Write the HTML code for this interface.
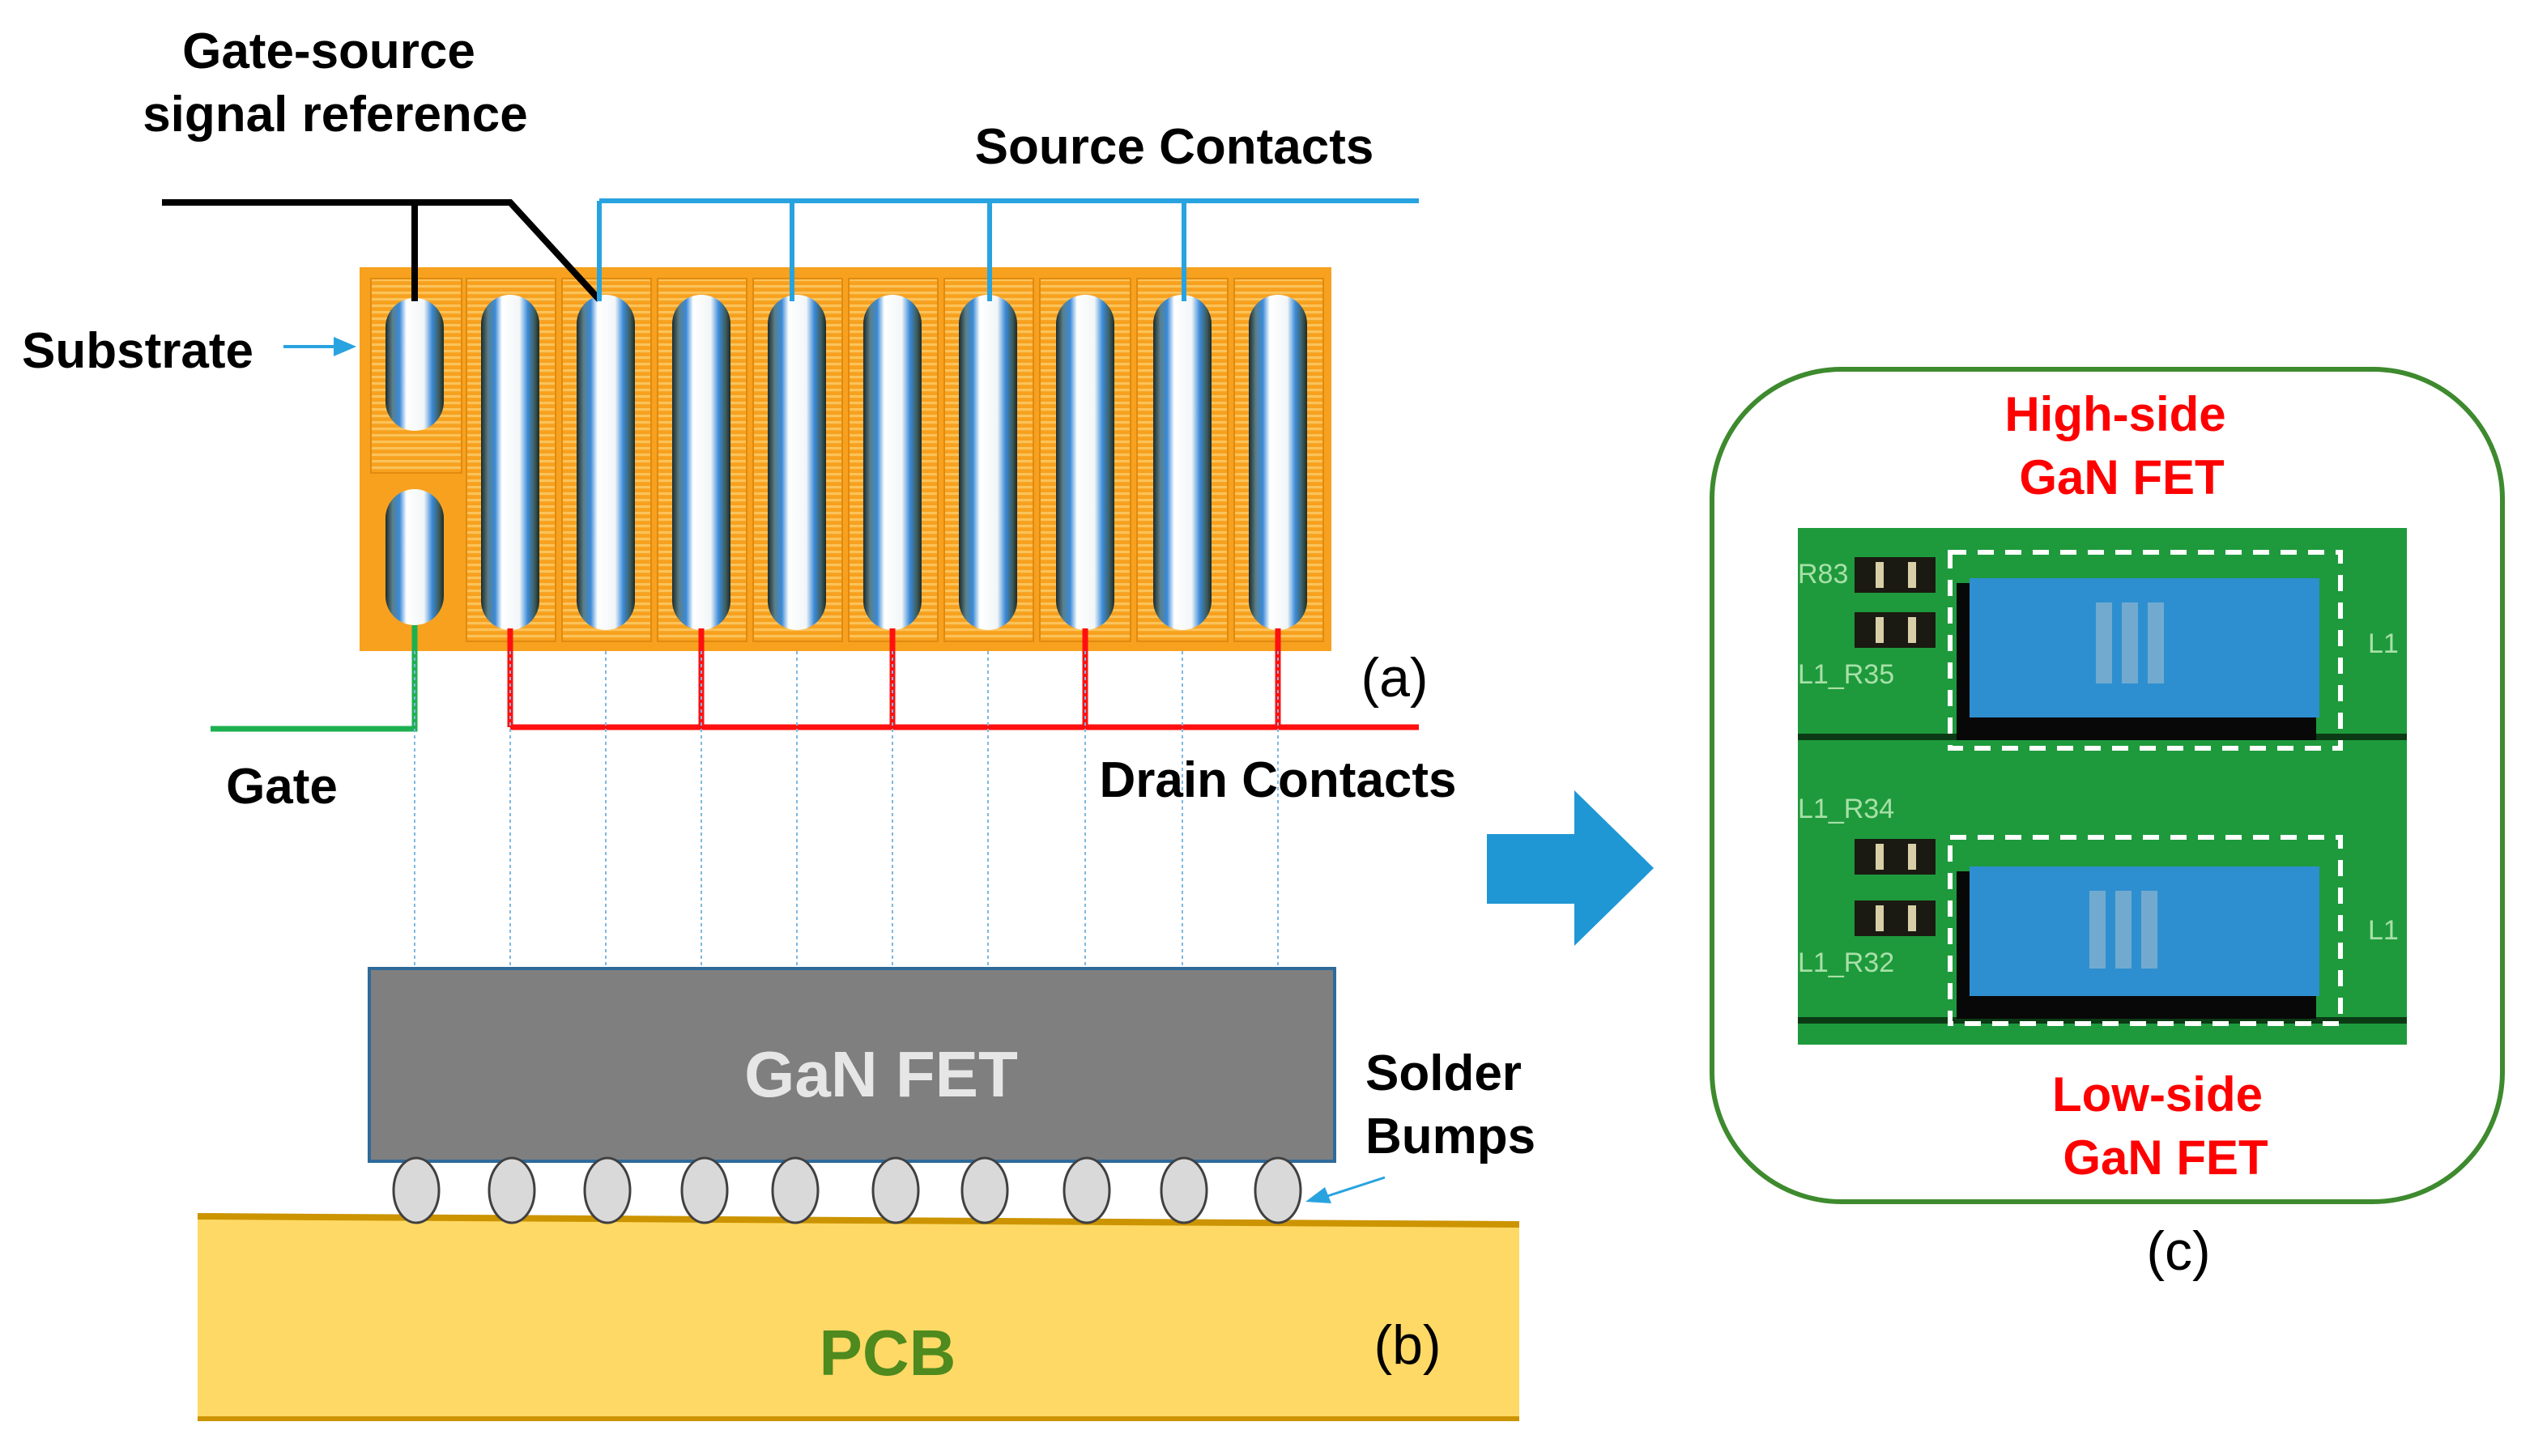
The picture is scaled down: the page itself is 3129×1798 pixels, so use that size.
<!DOCTYPE html>
<html><head><meta charset="utf-8"><style>
html,body{margin:0;padding:0;background:#fff;}
svg{display:block;}
text{font-family:"Liberation Sans",sans-serif;}
</style></head><body>
<svg width="3129" height="1798" viewBox="0 0 1564.5 899" xmlns="http://www.w3.org/2000/svg">
<defs>
<pattern id="st" width="4" height="4" patternUnits="userSpaceOnUse">
<rect width="4" height="4" fill="#F7A11F"/><rect width="4" height="1.6" fill="#FBC35A"/>
</pattern>
<linearGradient id="bg" x1="0" x2="1" y1="0" y2="0">
<stop offset="0" stop-color="#1d2a2a"/><stop offset="0.12" stop-color="#5a7f8a"/>
<stop offset="0.24" stop-color="#3a8ad8"/><stop offset="0.36" stop-color="#ffffff"/>
<stop offset="0.66" stop-color="#f2f6f8"/><stop offset="0.8" stop-color="#3a8ad8"/>
<stop offset="0.92" stop-color="#3d5c5c"/><stop offset="1" stop-color="#1d2a2a"/>
</linearGradient>
</defs>
<rect x="222" y="165" width="600" height="237" fill="#F7A11F"/>
<rect x="229" y="172" width="56" height="120" fill="url(#st)" stroke="#E08A10" stroke-width="1"/>
<g fill="url(#st)" stroke="#E08A10" stroke-width="1">
<rect x="288" y="172" width="55" height="224"/><rect x="347" y="172" width="55" height="224"/>
<rect x="406" y="172" width="55" height="224"/><rect x="465" y="172" width="55" height="224"/>
<rect x="524" y="172" width="55" height="224"/><rect x="583" y="172" width="55" height="224"/>
<rect x="642" y="172" width="56" height="224"/><rect x="702" y="172" width="56" height="224"/>
<rect x="762" y="172" width="55" height="224"/>
</g>
<g fill="url(#bg)">
<rect x="238" y="184" width="36" height="82" rx="18"/>
<rect x="238" y="302" width="36" height="84" rx="18"/>
<rect x="297" y="182" width="36" height="207" rx="18"/><rect x="356" y="182" width="36" height="207" rx="18"/>
<rect x="415" y="182" width="36" height="207" rx="18"/><rect x="474" y="182" width="36" height="207" rx="18"/>
<rect x="533" y="182" width="36" height="207" rx="18"/><rect x="592" y="182" width="36" height="207" rx="18"/>
<rect x="652" y="182" width="36" height="207" rx="18"/><rect x="712" y="182" width="36" height="207" rx="18"/>
<rect x="771" y="182" width="36" height="207" rx="18"/>
</g>
<polyline points="100,125 315,125 370,185" fill="none" stroke="#000" stroke-width="4"/>
<line x1="256" y1="125" x2="256" y2="186" stroke="#000" stroke-width="4"/>
<g stroke="#29A3E0" stroke-width="3" fill="none">
<line x1="370" y1="124" x2="876" y2="124"/>
<line x1="370" y1="124" x2="370" y2="186"/><line x1="489" y1="124" x2="489" y2="186"/>
<line x1="611" y1="124" x2="611" y2="186"/><line x1="731" y1="124" x2="731" y2="186"/>
</g>
<g stroke="#FF1010" stroke-width="3.5" fill="none">
<line x1="315" y1="449" x2="876" y2="449"/>
<line x1="315" y1="388" x2="315" y2="449"/><line x1="433" y1="388" x2="433" y2="449"/>
<line x1="551" y1="388" x2="551" y2="449"/><line x1="670" y1="388" x2="670" y2="449"/>
<line x1="789" y1="388" x2="789" y2="449"/>
</g>
<polyline points="256,386 256,450 130,450" fill="none" stroke="#1DB050" stroke-width="3.5"/>
<g stroke="#7fb8e0" stroke-width="1" stroke-dasharray="2,2">
<line x1="256" y1="402" x2="256" y2="775"/><line x1="315" y1="402" x2="315" y2="775"/>
<line x1="374" y1="402" x2="374" y2="775"/><line x1="433" y1="402" x2="433" y2="775"/>
<line x1="492" y1="402" x2="492" y2="775"/><line x1="551" y1="402" x2="551" y2="775"/>
<line x1="610" y1="402" x2="610" y2="775"/><line x1="670" y1="402" x2="670" y2="775"/>
<line x1="730" y1="402" x2="730" y2="775"/><line x1="789" y1="402" x2="789" y2="775"/>
</g>
<polygon points="122,750 938,755 938,877 122,877" fill="#FFD966"/>
<line x1="122" y1="751" x2="938" y2="756" stroke="#CC9400" stroke-width="4"/>
<line x1="122" y1="876" x2="938" y2="876" stroke="#CC9400" stroke-width="3"/>
<text x="548" y="849" font-size="40" font-weight="bold" fill="#4E8A1E" text-anchor="middle">PCB</text>
<rect x="228" y="598" width="596" height="119" fill="#7F7F7F" stroke="#2E6A9A" stroke-width="2"/>
<text x="544" y="677" font-size="40" font-weight="bold" fill="#E6E6E6" text-anchor="middle">GaN FET</text>
<g fill="#D9D9D9" stroke="#404040" stroke-width="1.5">
<ellipse cx="257" cy="735" rx="14" ry="20"/><ellipse cx="316" cy="735" rx="14" ry="20"/>
<ellipse cx="375" cy="735" rx="14" ry="20"/><ellipse cx="435" cy="735" rx="14" ry="20"/>
<ellipse cx="491" cy="735" rx="14" ry="20"/><ellipse cx="553" cy="735" rx="14" ry="20"/>
<ellipse cx="608" cy="735" rx="14" ry="20"/><ellipse cx="671" cy="735" rx="14" ry="20"/>
<ellipse cx="731" cy="735" rx="14" ry="20"/><ellipse cx="789" cy="735" rx="14" ry="20"/>
</g>
<g font-size="31" fill="#000" font-weight="bold">
<text x="203" y="42" text-anchor="middle">Gate-source</text>
<text x="207" y="81" text-anchor="middle">signal reference</text>
<text x="725" y="101" text-anchor="middle">Source Contacts</text>
<text x="85" y="227" text-anchor="middle">Substrate</text>
<text x="174" y="496" text-anchor="middle">Gate</text>
<text x="789" y="492" text-anchor="middle">Drain Contacts</text>
<text x="843" y="673">Solder</text>
<text x="843" y="712">Bumps</text>
</g>
<g font-size="34" fill="#000">
<text x="861" y="430" text-anchor="middle">(a)</text>
<text x="869" y="842" text-anchor="middle">(b)</text>
<text x="1345" y="784" text-anchor="middle">(c)</text>
</g>
<line x1="175" y1="214" x2="208" y2="214" stroke="#29A3E0" stroke-width="2"/>
<polygon points="220,214 206,208 206,220" fill="#29A3E0"/>
<line x1="855" y1="727" x2="818" y2="739" stroke="#29A3E0" stroke-width="1.5"/>
<polygon points="806,742 818,733 822,743" fill="#29A3E0"/>
<polygon points="918,515 972,515 972,488 1021,536 972,584 972,558 918,558" fill="#1F97D4"/>
<rect x="1057" y="228" width="488" height="514" rx="80" fill="none" stroke="#3E8A2E" stroke-width="3"/>
<g font-size="30" font-weight="bold" fill="#FF0000" text-anchor="middle">
<text x="1306" y="266">High-side</text><text x="1310" y="305">GaN FET</text>
<text x="1332" y="686">Low-side</text><text x="1337" y="725">GaN FET</text>
</g>
<rect x="1110" y="326" width="376" height="319" fill="#1E9A3C"/>
<rect x="1110" y="453" width="376" height="4" fill="#0B3A14"/>
<rect x="1110" y="628" width="376" height="4" fill="#0B3A14"/>
<rect x="1208" y="443" width="222" height="14" fill="#080808"/>
<rect x="1208" y="615" width="222" height="14" fill="#080808"/>
<rect x="1208" y="360" width="10" height="90" fill="#080808"/>
<rect x="1208" y="538" width="10" height="85" fill="#080808"/>
<rect x="1216" y="357" width="216" height="86" fill="#2E8FD0"/>
<rect x="1216" y="535" width="216" height="80" fill="#2E8FD0"/>
<g fill="#8fb6cf" opacity="0.7">
<rect x="1294" y="372" width="10" height="50"/><rect x="1310" y="372" width="10" height="50"/><rect x="1326" y="372" width="10" height="50"/>
<rect x="1290" y="550" width="10" height="48"/><rect x="1306" y="550" width="10" height="48"/><rect x="1322" y="550" width="10" height="48"/>
</g>
<g fill="#1a1a12">
<rect x="1145" y="344" width="50" height="22"/><rect x="1145" y="378" width="50" height="22"/>
<rect x="1145" y="518" width="50" height="22"/><rect x="1145" y="556" width="50" height="22"/>
</g>
<g fill="#d8cfa8">
<rect x="1158" y="347" width="5" height="16"/><rect x="1178" y="347" width="5" height="16"/>
<rect x="1158" y="381" width="5" height="16"/><rect x="1178" y="381" width="5" height="16"/>
<rect x="1158" y="521" width="5" height="16"/><rect x="1178" y="521" width="5" height="16"/>
<rect x="1158" y="559" width="5" height="16"/><rect x="1178" y="559" width="5" height="16"/>
</g>
<g font-size="17" fill="#A8E0A8">
<text x="1110" y="360">R83</text><text x="1110" y="422">L1_R35</text>
<text x="1110" y="505">L1_R34</text><text x="1110" y="600">L1_R32</text>
<text x="1462" y="403">L1</text><text x="1462" y="580">L1</text>
</g>
<g fill="none" stroke="#fff" stroke-width="3" stroke-dasharray="10,7">
<rect x="1204" y="341" width="241" height="121"/>
<rect x="1204" y="517" width="241" height="115"/>
</g>
</svg>
</body></html>
